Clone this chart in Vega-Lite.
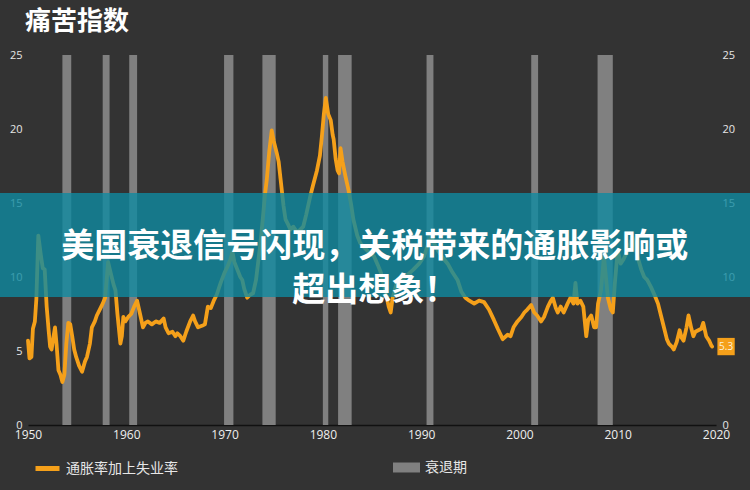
{
  "$schema": "https://vega.github.io/schema/vega-lite/v6.json",
  "width": 688,
  "height": 370,
  "autosize": "none",
  "padding": {"left": 28, "top": 55, "right": 34, "bottom": 65},
  "background": "#333333",
  "config": {"view": {"stroke": null}, "font": "Noto Sans CJK SC"},
  "title": {"text": "痛苦指数", "anchor": "start", "frame": "group", "dx": -3, "offset": 14, "fontSize": 26, "font": "Noto Sans CJK SC", "fontWeight": "bold", "color": "#ffffff"},
  "datasets": {
    "recessions": [
      {"start": 1953.5, "end": 1954.4},
      {"start": 1957.6, "end": 1958.3},
      {"start": 1960.3, "end": 1961.1},
      {"start": 1969.95, "end": 1970.9},
      {"start": 1973.85, "end": 1975.2},
      {"start": 1980.0, "end": 1980.55},
      {"start": 1981.55, "end": 1982.93},
      {"start": 1990.55, "end": 1991.25},
      {"start": 2001.2, "end": 2001.9},
      {"start": 2007.95, "end": 2009.5}
    ],
    "misery": [
      {"year": 1950.0, "value": 5.7}, {"year": 1950.15, "value": 4.5}, {"year": 1950.35, "value": 4.6},
      {"year": 1950.5, "value": 6.5}, {"year": 1950.7, "value": 7.0}, {"year": 1950.85, "value": 8.5},
      {"year": 1951.05, "value": 12.8}, {"year": 1951.3, "value": 11.5}, {"year": 1951.5, "value": 10.6},
      {"year": 1951.7, "value": 10.5}, {"year": 1951.9, "value": 8.0}, {"year": 1952.1, "value": 6.4},
      {"year": 1952.25, "value": 5.3}, {"year": 1952.4, "value": 5.1}, {"year": 1952.6, "value": 6.0},
      {"year": 1952.75, "value": 6.6}, {"year": 1952.9, "value": 5.5}, {"year": 1953.1, "value": 3.7},
      {"year": 1953.3, "value": 3.4}, {"year": 1953.5, "value": 2.9}, {"year": 1953.7, "value": 3.4},
      {"year": 1953.9, "value": 5.5}, {"year": 1954.1, "value": 6.9}, {"year": 1954.3, "value": 6.8},
      {"year": 1954.5, "value": 6.0}, {"year": 1954.7, "value": 5.1}, {"year": 1954.9, "value": 4.6},
      {"year": 1955.2, "value": 4.0}, {"year": 1955.5, "value": 3.6}, {"year": 1955.8, "value": 4.3},
      {"year": 1956.0, "value": 4.6}, {"year": 1956.3, "value": 5.5}, {"year": 1956.5, "value": 6.6},
      {"year": 1956.8, "value": 7.0}, {"year": 1957.0, "value": 7.4}, {"year": 1957.3, "value": 7.8},
      {"year": 1957.6, "value": 8.2}, {"year": 1957.85, "value": 8.6}, {"year": 1958.0, "value": 9.8},
      {"year": 1958.15, "value": 11.0}, {"year": 1958.4, "value": 10.3}, {"year": 1958.7, "value": 9.5},
      {"year": 1958.9, "value": 9.1}, {"year": 1959.1, "value": 7.5}, {"year": 1959.4, "value": 5.5},
      {"year": 1959.55, "value": 6.0}, {"year": 1959.7, "value": 7.3}, {"year": 1959.9, "value": 7.0},
      {"year": 1960.2, "value": 7.3}, {"year": 1960.5, "value": 7.5}, {"year": 1960.8, "value": 8.0},
      {"year": 1961.1, "value": 8.4}, {"year": 1961.4, "value": 7.5}, {"year": 1961.7, "value": 6.6},
      {"year": 1961.95, "value": 6.9}, {"year": 1962.2, "value": 7.0}, {"year": 1962.6, "value": 6.8},
      {"year": 1963.0, "value": 7.0}, {"year": 1963.4, "value": 6.9}, {"year": 1963.8, "value": 7.2},
      {"year": 1964.0, "value": 6.6}, {"year": 1964.3, "value": 6.2}, {"year": 1964.7, "value": 6.3},
      {"year": 1965.0, "value": 6.0}, {"year": 1965.2, "value": 6.2}, {"year": 1965.5, "value": 6.0},
      {"year": 1965.8, "value": 5.7}, {"year": 1966.1, "value": 6.3}, {"year": 1966.5, "value": 7.0},
      {"year": 1966.8, "value": 7.4}, {"year": 1967.0, "value": 7.0}, {"year": 1967.3, "value": 6.6},
      {"year": 1967.7, "value": 6.7}, {"year": 1968.0, "value": 6.8}, {"year": 1968.3, "value": 8.0},
      {"year": 1968.6, "value": 7.9}, {"year": 1968.9, "value": 8.4}, {"year": 1969.2, "value": 8.8},
      {"year": 1969.6, "value": 9.6}, {"year": 1970.0, "value": 10.3}, {"year": 1970.3, "value": 10.7},
      {"year": 1970.6, "value": 11.2}, {"year": 1970.8, "value": 11.7}, {"year": 1971.0, "value": 11.0},
      {"year": 1971.3, "value": 10.5}, {"year": 1971.6, "value": 10.0}, {"year": 1971.8, "value": 9.8},
      {"year": 1972.0, "value": 9.2}, {"year": 1972.3, "value": 8.6}, {"year": 1972.6, "value": 8.8},
      {"year": 1972.9, "value": 8.9}, {"year": 1973.2, "value": 9.8}, {"year": 1973.6, "value": 12.0},
      {"year": 1973.9, "value": 14.0}, {"year": 1974.1, "value": 15.5}, {"year": 1974.3, "value": 16.6},
      {"year": 1974.55, "value": 18.5}, {"year": 1974.8, "value": 19.9}, {"year": 1975.0, "value": 19.2},
      {"year": 1975.3, "value": 18.4}, {"year": 1975.5, "value": 17.8}, {"year": 1975.7, "value": 16.6},
      {"year": 1976.0, "value": 14.8}, {"year": 1976.2, "value": 13.9}, {"year": 1976.5, "value": 13.5},
      {"year": 1976.7, "value": 13.2}, {"year": 1977.0, "value": 13.4}, {"year": 1977.4, "value": 13.0},
      {"year": 1977.7, "value": 13.2}, {"year": 1978.0, "value": 13.4}, {"year": 1978.3, "value": 14.2},
      {"year": 1978.7, "value": 15.4}, {"year": 1979.0, "value": 16.2}, {"year": 1979.4, "value": 17.2},
      {"year": 1979.7, "value": 18.2}, {"year": 1979.9, "value": 19.5}, {"year": 1980.1, "value": 21.0},
      {"year": 1980.3, "value": 22.1}, {"year": 1980.55, "value": 21.0}, {"year": 1980.8, "value": 20.6},
      {"year": 1981.0, "value": 19.6}, {"year": 1981.1, "value": 19.3}, {"year": 1981.3, "value": 18.0},
      {"year": 1981.5, "value": 17.2}, {"year": 1981.65, "value": 17.0}, {"year": 1981.8, "value": 18.7},
      {"year": 1982.0, "value": 17.8}, {"year": 1982.3, "value": 16.8}, {"year": 1982.6, "value": 15.9},
      {"year": 1982.9, "value": 14.8}, {"year": 1983.1, "value": 13.9}, {"year": 1983.5, "value": 12.8},
      {"year": 1983.8, "value": 12.3}, {"year": 1984.2, "value": 12.0}, {"year": 1984.5, "value": 11.8},
      {"year": 1984.8, "value": 11.6}, {"year": 1985.2, "value": 11.4}, {"year": 1985.6, "value": 10.8},
      {"year": 1985.9, "value": 10.3}, {"year": 1986.3, "value": 9.2}, {"year": 1986.7, "value": 8.0},
      {"year": 1986.9, "value": 7.6}, {"year": 1987.1, "value": 8.6}, {"year": 1987.6, "value": 9.8},
      {"year": 1988.2, "value": 9.9}, {"year": 1988.7, "value": 10.2}, {"year": 1989.2, "value": 10.5},
      {"year": 1989.8, "value": 10.9}, {"year": 1990.3, "value": 11.4}, {"year": 1990.7, "value": 12.2},
      {"year": 1991.0, "value": 12.7}, {"year": 1991.3, "value": 12.3}, {"year": 1991.7, "value": 11.8},
      {"year": 1992.2, "value": 11.3}, {"year": 1992.7, "value": 10.9}, {"year": 1993.2, "value": 10.3},
      {"year": 1993.7, "value": 9.8}, {"year": 1994.1, "value": 9.0}, {"year": 1994.5, "value": 8.6},
      {"year": 1994.9, "value": 8.4}, {"year": 1995.4, "value": 8.2}, {"year": 1995.9, "value": 8.4},
      {"year": 1996.4, "value": 8.3}, {"year": 1996.9, "value": 7.8}, {"year": 1997.4, "value": 7.1},
      {"year": 1997.8, "value": 6.5}, {"year": 1998.3, "value": 5.8}, {"year": 1998.8, "value": 6.1},
      {"year": 1999.1, "value": 6.0}, {"year": 1999.4, "value": 6.6}, {"year": 1999.8, "value": 7.0},
      {"year": 2000.2, "value": 7.3}, {"year": 2000.5, "value": 7.6}, {"year": 2000.8, "value": 7.8},
      {"year": 2001.2, "value": 8.1}, {"year": 2001.5, "value": 7.6}, {"year": 2001.8, "value": 7.4},
      {"year": 2002.2, "value": 7.0}, {"year": 2002.5, "value": 7.3}, {"year": 2002.9, "value": 8.0},
      {"year": 2003.2, "value": 8.4}, {"year": 2003.4, "value": 8.6}, {"year": 2003.7, "value": 7.9},
      {"year": 2003.9, "value": 7.6}, {"year": 2004.2, "value": 8.0}, {"year": 2004.5, "value": 7.6},
      {"year": 2004.9, "value": 8.2}, {"year": 2005.2, "value": 8.6}, {"year": 2005.5, "value": 8.2},
      {"year": 2005.7, "value": 9.6}, {"year": 2005.9, "value": 8.2}, {"year": 2006.2, "value": 8.4},
      {"year": 2006.5, "value": 8.0}, {"year": 2006.8, "value": 6.0}, {"year": 2007.0, "value": 7.1},
      {"year": 2007.3, "value": 7.4}, {"year": 2007.6, "value": 6.6}, {"year": 2007.8, "value": 6.6},
      {"year": 2008.0, "value": 8.2}, {"year": 2008.3, "value": 9.1}, {"year": 2008.6, "value": 11.4},
      {"year": 2008.8, "value": 10.0}, {"year": 2009.0, "value": 8.6}, {"year": 2009.3, "value": 7.8},
      {"year": 2009.5, "value": 7.6}, {"year": 2009.7, "value": 9.5}, {"year": 2010.0, "value": 11.8},
      {"year": 2010.3, "value": 10.9}, {"year": 2010.6, "value": 11.2}, {"year": 2011.0, "value": 11.8},
      {"year": 2011.3, "value": 12.3}, {"year": 2011.5, "value": 12.7}, {"year": 2011.8, "value": 12.0},
      {"year": 2012.0, "value": 11.4}, {"year": 2012.4, "value": 10.5}, {"year": 2012.7, "value": 10.0},
      {"year": 2013.0, "value": 9.8}, {"year": 2013.4, "value": 9.3}, {"year": 2013.8, "value": 8.7},
      {"year": 2014.1, "value": 8.2}, {"year": 2014.4, "value": 7.4}, {"year": 2014.7, "value": 6.6},
      {"year": 2015.0, "value": 5.8}, {"year": 2015.2, "value": 5.5}, {"year": 2015.5, "value": 5.3},
      {"year": 2015.7, "value": 5.1}, {"year": 2016.0, "value": 5.6}, {"year": 2016.3, "value": 6.4},
      {"year": 2016.5, "value": 5.9}, {"year": 2016.7, "value": 5.7}, {"year": 2017.0, "value": 6.6},
      {"year": 2017.2, "value": 7.4}, {"year": 2017.5, "value": 6.5}, {"year": 2017.7, "value": 6.0},
      {"year": 2017.9, "value": 6.3}, {"year": 2018.2, "value": 6.4}, {"year": 2018.5, "value": 6.5},
      {"year": 2018.7, "value": 6.9}, {"year": 2019.0, "value": 6.0}, {"year": 2019.3, "value": 5.7},
      {"year": 2019.5, "value": 5.4}, {"year": 2019.6, "value": 5.3}
    ]
  },
  "layer": [
    {
      "data": {"name": "recessions"},
      "mark": {"type": "rect"},
      "encoding": {
        "x": {"field": "start", "type": "quantitative", "title": null,
              "scale": {"domain": [1950, 2020], "nice": false, "zero": false},
              "axis": {"values": [1950, 1960, 1970, 1980, 1990, 2000, 2010, 2020], "format": "d", "grid": false, "ticks": false, "domainColor": "#111111", "domainWidth": 1.5, "labelColor": "#eeeeee", "labelFontSize": 12, "labelFont": "Open Sans", "labelPadding": 4, "labelFlush": false}},
        "x2": {"field": "end"},
        "y": {"datum": 0, "type": "quantitative", "title": null,
              "scale": {"domain": [0, 25], "nice": false},
              "axis": {"orient": "left", "values": [0, 5, 10, 15, 20, 25], "grid": false, "ticks": false, "domain": false, "labelColor": "#e6e6e6", "labelFontSize": 11, "labelFont": "Open Sans", "labelPadding": 6}},
        "y2": {"datum": 25},
        "fill": {"datum": "衰退期", "type": "nominal", "scale": {"range": ["#808080"]},
                 "legend": {"orient": "none", "legendX": 365, "legendY": 399, "title": null, "padding": 0, "symbolType": "M-1,-0.37H1V0.37H-1Z", "symbolSize": 729, "symbolStrokeWidth": 0, "symbolOpacity": 1, "labelFontSize": 14, "labelColor": "#e6e6e6", "labelOffset": 5, "labelFont": "Noto Sans CJK SC"}}
      }
    },
    {
      "data": {"name": "misery"},
      "mark": {"type": "line", "strokeWidth": 3.8, "strokeJoin": "round", "strokeCap": "round"},
      "encoding": {
        "x": {"field": "year", "type": "quantitative", "title": null,
              "axis": {"values": [1950, 1960, 1970, 1980, 1990, 2000, 2010, 2020], "format": "d", "grid": false, "ticks": false, "domainColor": "#111111", "domainWidth": 1.5, "labelColor": "#eeeeee", "labelFontSize": 12, "labelFont": "Open Sans", "labelPadding": 4, "labelFlush": false}},
        "y": {"field": "value", "type": "quantitative", "title": null,
              "axis": {"orient": "right", "values": [0, 5, 10, 15, 20, 25], "grid": false, "ticks": false, "domain": false, "labelColor": "#e6e6e6", "labelFontSize": 11, "labelFont": "Open Sans", "labelPadding": 6}},
        "stroke": {"datum": "通胀率加上失业率", "type": "nominal", "scale": {"range": ["#f5a01a"]},
                   "legend": {"orient": "none", "legendX": 5, "legendY": 399, "title": null, "padding": 0, "symbolType": "stroke", "symbolSize": 576, "symbolStrokeWidth": 5, "labelFontSize": 14, "labelColor": "#e6e6e6", "labelOffset": 4, "labelFont": "Noto Sans CJK SC"}}
      }
    },
    {
      "data": {"name": "misery"},
      "transform": [{"filter": "datum.year == 2019.6"}],
      "mark": {"type": "point", "shape": "square", "filled": true, "size": 300, "color": "#f5a01a", "opacity": 1, "xOffset": 14},
      "encoding": {
        "x": {"field": "year", "type": "quantitative", "title": null,
              "axis": {"values": [1950, 1960, 1970, 1980, 1990, 2000, 2010, 2020], "format": "d", "grid": false, "ticks": false, "domainColor": "#111111", "domainWidth": 1.5, "labelColor": "#eeeeee", "labelFontSize": 12, "labelFont": "Open Sans", "labelPadding": 4, "labelFlush": false}},
        "y": {"field": "value", "type": "quantitative", "axis": null}
      }
    },
    {
      "data": {"name": "misery"},
      "transform": [{"filter": "datum.year == 2019.6"}],
      "mark": {"type": "text", "xOffset": 14, "fontSize": 10, "font": "Open Sans", "color": "#fdf0d8"},
      "encoding": {
        "x": {"field": "year", "type": "quantitative", "title": null,
              "axis": {"values": [1950, 1960, 1970, 1980, 1990, 2000, 2010, 2020], "format": "d", "grid": false, "ticks": false, "domainColor": "#111111", "domainWidth": 1.5, "labelColor": "#eeeeee", "labelFontSize": 12, "labelFont": "Open Sans", "labelPadding": 4, "labelFlush": false}},
        "y": {"field": "value", "type": "quantitative", "axis": null},
        "text": {"field": "value", "type": "quantitative", "format": ".1f"}
      }
    },
    {
      "data": {"values": [{}]},
      "mark": {"type": "rect", "fill": "#0f8aa0", "opacity": 0.8},
      "encoding": {
        "x": {"datum": 1947.1, "type": "quantitative", "title": null,
              "axis": {"values": [1950, 1960, 1970, 1980, 1990, 2000, 2010, 2020], "format": "d", "grid": false, "ticks": false, "domainColor": "#111111", "domainWidth": 1.5, "labelColor": "#eeeeee", "labelFontSize": 12, "labelFont": "Open Sans", "labelPadding": 4, "labelFlush": false}},
        "x2": {"datum": 2023.7},
        "y": {"datum": 15.68, "type": "quantitative", "axis": null},
        "y2": {"datum": 8.65}
      }
    },
    {
      "data": {"values": [{}]},
      "mark": {"type": "text", "text": ["美国衰退信号闪现，关税带来的通胀影响或", "超出想象！"], "font": "Noto Sans CJK SC", "fontWeight": "bold", "fontSize": 33, "lineHeight": 44, "color": "#ffffff", "align": "center", "baseline": "middle"},
      "encoding": {
        "x": {"datum": 1985.27, "type": "quantitative", "title": null,
              "axis": {"values": [1950, 1960, 1970, 1980, 1990, 2000, 2010, 2020], "format": "d", "grid": false, "ticks": false, "domainColor": "#111111", "domainWidth": 1.5, "labelColor": "#eeeeee", "labelFontSize": 12, "labelFont": "Open Sans", "labelPadding": 4, "labelFlush": false}},
        "y": {"datum": 12.06, "type": "quantitative", "axis": null}
      }
    }
  ],
  "resolve": {"axis": {"y": "independent"}}
}
